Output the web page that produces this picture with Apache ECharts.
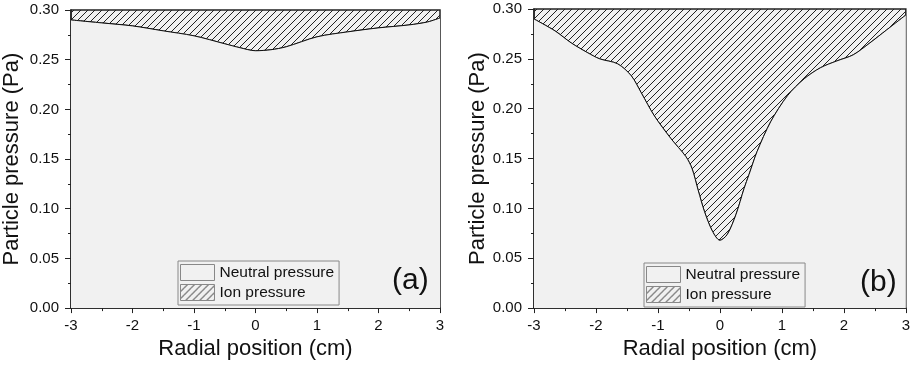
<!DOCTYPE html>
<html>
<head>
<meta charset="utf-8">
<script src="https://cdn.jsdelivr.net/npm/echarts@6/dist/echarts.min.js"></script>
<style>
  html, body { margin: 0; padding: 0; background: #fff; }
  #container { width: 913px; height: 365px; }
</style>
</head>
<body>
<div id="container"></div>
<script>
  // radial position (cm) and neutral pressure (Pa), panel (a)
  var xA = [-3, -2.5, -2, -1.5, -1, -0.5, -0.25, 0, 0.25, 0.5, 1, 1.5, 2, 2.5, 2.8, 3];
  var neutralA = [0.290, 0.287, 0.284, 0.279, 0.274, 0.266, 0.262, 0.259, 0.260, 0.263, 0.273, 0.278, 0.282, 0.285, 0.288, 0.292];
  // panel (b)
  var xB = [-3, -2.66, -2.4, -2.13, -1.94, -1.65, -1.43, -1.27, -1.06, -0.79, -0.55, -0.45, -0.35, -0.25, -0.12, 0, 0.12, 0.26, 0.39, 0.47, 0.6, 0.82, 1.09, 1.36, 1.62, 1.89, 2.15, 2.42, 2.69, 3];
  var neutralB = [0.290, 0.278, 0.266, 0.256, 0.250, 0.245, 0.233, 0.216, 0.193, 0.170, 0.152, 0.140, 0.118, 0.097, 0.077, 0.068, 0.074, 0.094, 0.120, 0.134, 0.157, 0.187, 0.213, 0.230, 0.241, 0.248, 0.254, 0.266, 0.279, 0.294];
  var xTicks = ['-3', '-2', '-1', '0', '1', '2', '3'];
  var panelLabels = ['(a)', '(b)'];
  var seriesNames = ['Neutral pressure', 'Ion pressure'];

  var FONT = 'Liberation Sans, Arial, sans-serif';
  var BG = '#f1f1f1';

  // hatch pattern "///"
  var cv = document.createElement('canvas');
  cv.width = 7; cv.height = 7;
  var ctx = cv.getContext('2d');
  ctx.strokeStyle = '#222';
  ctx.lineWidth = 1;
  ctx.beginPath();
  ctx.moveTo(0, 7); ctx.lineTo(7, 0);
  ctx.moveTo(-1, 1); ctx.lineTo(1, -1);
  ctx.moveTo(6, 8); ctx.lineTo(8, 6);
  ctx.stroke();
  var hatch = { image: cv, repeat: 'repeat' };

  function pairs(xs, ys) {
    return xs.map(function (x, i) { return [x, ys[i]]; });
  }

  function xAxis(idx) {
    return {
      gridIndex: idx, type: 'value', min: -3, max: 3, interval: 1,
      name: 'Radial position (cm)', nameLocation: 'middle', nameGap: 29,
      nameTextStyle: { fontSize: 22, color: '#111', fontFamily: FONT },
      axisLine: { show: true, onZero: false, lineStyle: { color: '#222', width: 1.5 } },
      axisTick: { show: true, inside: false, length: 5, lineStyle: { color: '#222' } },
      minorTick: { show: true, splitNumber: 2, length: 3, lineStyle: { color: '#222' } },
      splitLine: { show: false },
      axisLabel: { fontSize: 15, color: '#111', fontFamily: FONT, margin: 10,
        formatter: function (v) { return xTicks[Math.round(v) + 3]; } }
    };
  }

  function yAxis(idx, gap) {
    return {
      gridIndex: idx, type: 'value', min: 0, max: 0.3, interval: 0.05,
      name: 'Particle pressure (Pa)', nameLocation: 'middle', nameGap: gap,
      nameTextStyle: { fontSize: 22, color: '#111', fontFamily: FONT },
      axisLine: { show: true, onZero: false, lineStyle: { color: '#222', width: 1.5 } },
      axisTick: { show: true, inside: false, length: 6, lineStyle: { color: '#222' } },
      minorTick: { show: true, splitNumber: 2, length: 3, lineStyle: { color: '#222' } },
      splitLine: { show: false },
      axisLabel: { fontSize: 15, color: '#111', fontFamily: FONT, margin: 12,
        formatter: function (v) { return v.toFixed(2); } }
    };
  }

  function seriesPair(idx, xs, ys) {
    var d = pairs(xs, ys);
    return [
      {
        name: seriesNames[0], type: 'line', xAxisIndex: idx, yAxisIndex: idx,
        data: d, smooth: 0.3, symbol: 'none', z: 3,
        lineStyle: { color: '#111', width: 1 },
        itemStyle: { color: BG },
        areaStyle: { color: BG, opacity: 1, origin: 'start' }
      },
      {
        name: seriesNames[1], type: 'line', xAxisIndex: idx, yAxisIndex: idx,
        data: d, smooth: 0.3, symbol: 'none', z: 2,
        lineStyle: { color: '#111', width: 1 },
        itemStyle: { color: '#222' },
        areaStyle: { color: hatch, opacity: 1, origin: 'end' }
      }
    ];
  }

  function legend(left, top) {
    return {
      left: left, top: top, orient: 'vertical', icon: 'rect',
      itemWidth: 34, itemHeight: 16, itemGap: 3,
      padding: [3, 5, 4, 2],
      backgroundColor: BG, borderColor: '#888', borderWidth: 1, borderRadius: 0,
      textStyle: { fontSize: 15.5, color: '#111', fontFamily: FONT, padding: [0, 0, 0, 0] },
      selectedMode: false,
      data: [
        { name: seriesNames[0], itemStyle: { color: BG, borderColor: '#888', borderWidth: 1 } },
        { name: seriesNames[1], itemStyle: { color: hatch, borderColor: '#888', borderWidth: 1 } }
      ]
    };
  }

  var myChart = echarts.init(document.getElementById('container'), null, { renderer: 'canvas' });
  var option = {
    animation: false,
    backgroundColor: '#fff',
    title: [
      { text: panelLabels[0], left: 387, top: 261, textStyle: { fontSize: 30, fontWeight: 'normal', color: '#111', fontFamily: FONT } },
      { text: panelLabels[1], left: 855, top: 263, textStyle: { fontSize: 30, fontWeight: 'normal', color: '#111', fontFamily: FONT } }
    ],
    grid: [
      { left: 70, right: 473, top: 10, bottom: 55, show: true, backgroundColor: BG, borderColor: '#222', borderWidth: 1.5 },
      { left: 534, right: 6, top: 9, bottom: 54, show: true, backgroundColor: BG, borderColor: '#222', borderWidth: 1.5 }
    ],
    xAxis: [xAxis(0), xAxis(1)],
    yAxis: [yAxis(0, 48), yAxis(1, 45)],
    legend: [legend(178, 261), legend(644, 263)],
    series: seriesPair(0, xA, neutralA).concat(seriesPair(1, xB, neutralB))
  };
  myChart.setOption(option, true);
</script>
</body>
</html>
